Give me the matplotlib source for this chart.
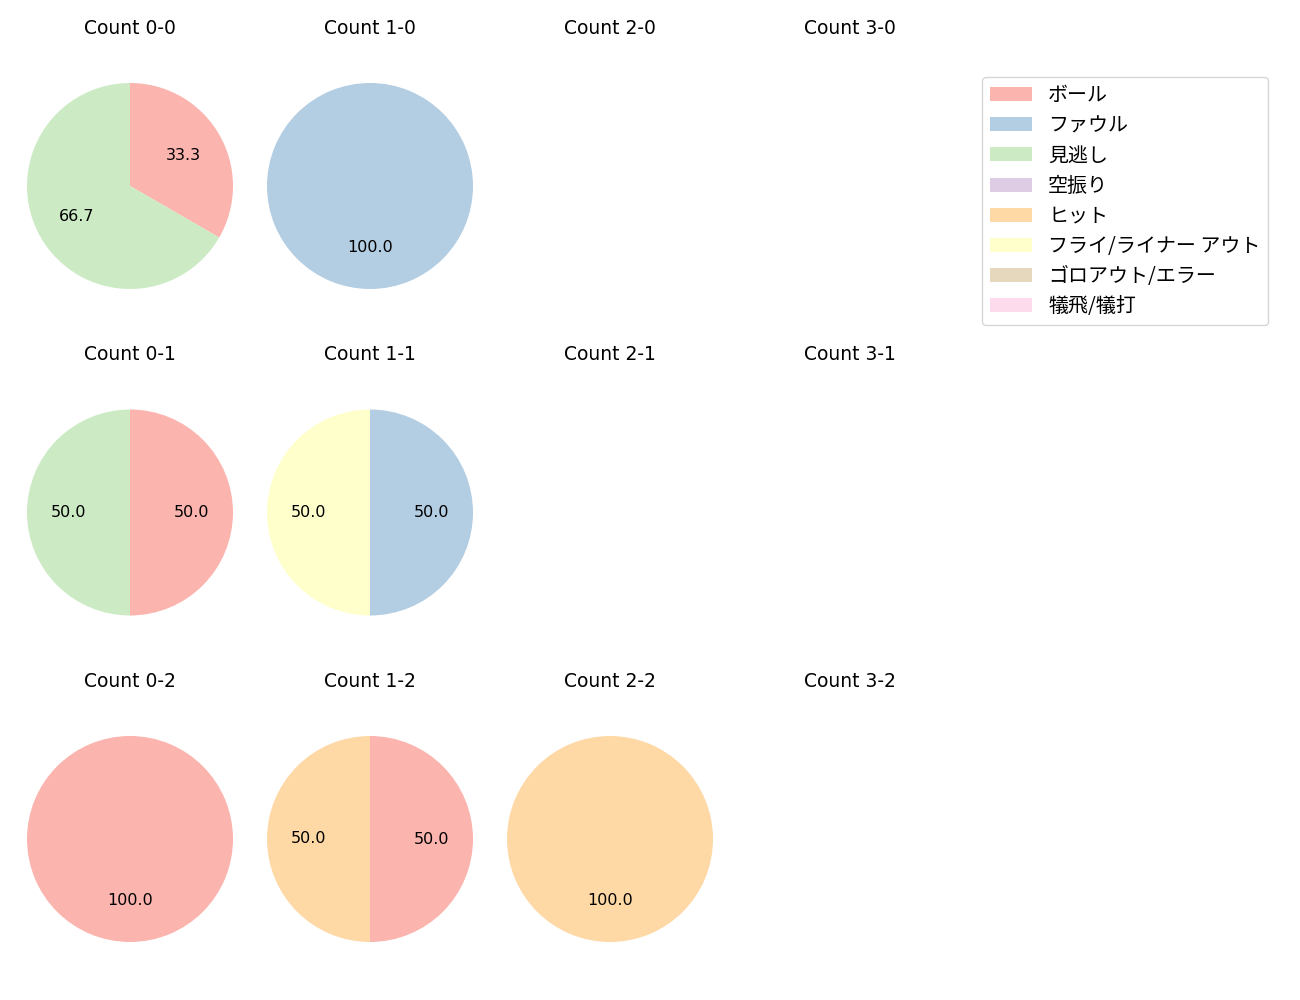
import matplotlib
matplotlib.use("Agg")
import matplotlib.pyplot as plt
from matplotlib.patches import Patch

plt.rcParams['font.family'] = ['DejaVu Sans', 'Noto Sans CJK JP']

# result categories and their colours (Pastel1)
categories = ['ボール', 'ファウル', '見逃し', '空振り', 'ヒット',
              'フライ/ライナー アウト', 'ゴロアウト/エラー', '犠飛/犠打']
colors = ['#fbb4ae', '#b3cde3', '#ccebc5', '#decbe4', '#fed9a6',
          '#ffffcc', '#e5d8bd', '#fddaec']

balls = [0, 1, 2, 3]
strikes = [0, 1, 2]

# pitch outcome counts per ball-strike count, in category order
counts = {
    (0, 0): [1, 0, 2, 0, 0, 0, 0, 0],
    (1, 0): [0, 1, 0, 0, 0, 0, 0, 0],
    (0, 1): [1, 0, 1, 0, 0, 0, 0, 0],
    (1, 1): [0, 1, 0, 0, 0, 1, 0, 0],
    (0, 2): [1, 0, 0, 0, 0, 0, 0, 0],
    (1, 2): [1, 0, 0, 0, 1, 0, 0, 0],
    (2, 2): [0, 0, 0, 0, 1, 0, 0, 0],
}

W, H = 1300, 1000
fig = plt.figure(figsize=(13, 10), dpi=100)

radius_px = 103
size = 2.5 * radius_px
for s in strikes:
    for b in balls:
        cx = 130 + 240 * b
        cy = 186 + 326.5 * s
        ax = fig.add_axes([(cx - size / 2) / W, 1 - (cy + size / 2) / H,
                           size / W, size / H])
        ax.set_title(f'Count {b}-{s}', fontsize=13.5, pad=17)
        vals = counts.get((b, s))
        if vals is None:
            ax.axis('off')
            continue
        v = [x for x in vals if x > 0]
        c = [colors[i] for i, x in enumerate(vals) if x > 0]
        ax.pie(v, colors=c, startangle=90, counterclock=False,
               autopct='%.1f', textprops={'fontsize': 11.5})
        ax.set_xlim(-1.25, 1.25)
        ax.set_ylim(-1.25, 1.25)

handles = [Patch(facecolor=col, label=lab) for col, lab in zip(colors, categories)]
fig.legend(handles=handles, loc='upper left', bbox_to_anchor=(982 / W, 1 - 77 / H),
           prop={'family': ['Noto Sans CJK JP'], 'size': 14.4}, borderaxespad=0,
           labelspacing=0.46, handlelength=2.1)

fig.savefig('out.png', dpi=100)
